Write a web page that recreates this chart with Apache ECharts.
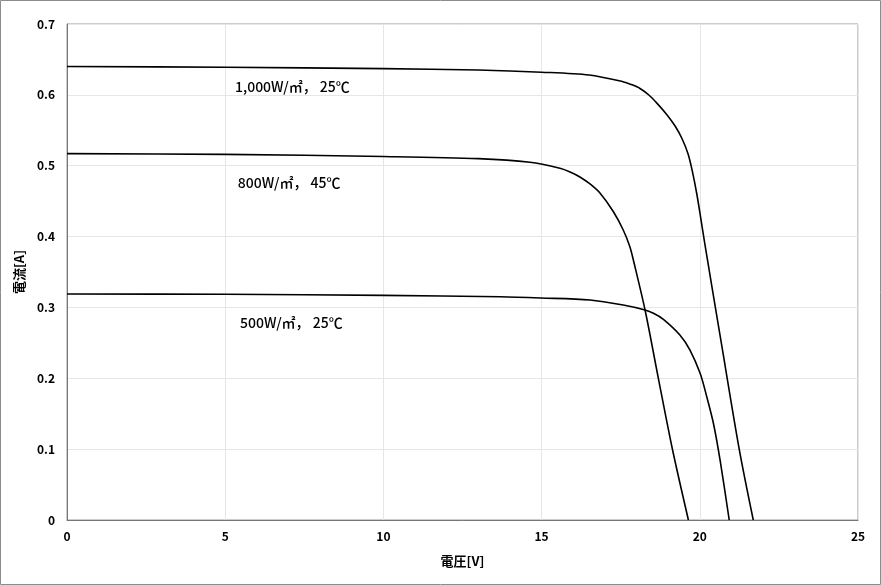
<!DOCTYPE html>
<html><head><meta charset="utf-8">
<script src="https://cdn.jsdelivr.net/npm/echarts@6/dist/echarts.min.js"></script>
<style>html,body{margin:0;padding:0;background:#fff}#c{width:881px;height:585px}</style>
</head><body><div id="c"></div>
<script>
// Data (voltage V, current A)
const curve1000 = [[0,0.640],[5,0.639],[10,0.637],[13,0.635],[15,0.632],[16.5,0.628],[17.57,0.6186],[17.86,0.6141],[18.11,0.609],[18.39,0.5998],[18.65,0.588],[18.96,0.572],[19.22,0.556],[19.44,0.538],[19.63,0.5165],[19.77,0.491],[19.90,0.4615],[20.02,0.429],[20.15,0.392],[20.68,0.250],[21.25,0.099],[21.69,0]];
const curve800 = [[0,0.517],[5,0.516],[10,0.513],[13,0.510],[14.63,0.5048],[15.58,0.4963],[15.90,0.4911],[16.21,0.4841],[16.53,0.4742],[16.85,0.4611],[17.27,0.4351],[17.58,0.4093],[17.79,0.3857],[17.90,0.3669],[18.27,0.2964],[18.69,0.200],[19.14,0.0988],[19.64,0]];
const curve500 = [[0,0.319],[5,0.3185],[10,0.317],[13.7,0.315],[14.98,0.3133],[16.53,0.3105],[17.58,0.3034],[18.27,0.2964],[18.55,0.2914],[18.85,0.2832],[19.37,0.2611],[19.69,0.2399],[20.01,0.207],[20.22,0.174],[20.43,0.1365],[20.64,0.0847],[20.93,0]];
const labelTexts = ['1,000W/㎡， 25℃','800W/㎡， 45℃','500W/㎡， 25℃'];
const labelCoords = [[5.31,0.611],[5.40,0.476],[5.47,0.278]];
const xTicks = {min:0,max:25,interval:5};
const yTicks = {min:0,max:0.7,interval:0.1};
const xName = '電圧[V]';
const yName = '電流[A]';

const FONT = '"Noto Sans CJK JP","Noto Sans",sans-serif';
const curves = [curve1000, curve800, curve500];
const chart = echarts.init(document.getElementById('c'), null, {renderer:'canvas'});
chart.setOption({
  animation:false,
  backgroundColor:'#fff',
  grid:{left:67,right:23,top:24,bottom:65,show:true,borderColor:'#9a9a9a',borderWidth:1},
  graphic:[{type:'rect',shape:{x:0.5,y:0.5,width:880,height:584},style:{fill:'none',stroke:'#8c8c8c',lineWidth:1},silent:true}],
  xAxis:{type:'value',min:xTicks.min,max:xTicks.max,interval:xTicks.interval,
    name:xName,nameLocation:'middle',nameGap:35,
    nameTextStyle:{fontFamily:FONT,fontSize:13,fontWeight:'bold',color:'#000'},
    axisLine:{lineStyle:{color:'#777',width:1}},axisTick:{show:false},
    axisLabel:{fontFamily:FONT,fontSize:12,fontWeight:'bold',color:'#000',margin:10},
    splitLine:{lineStyle:{color:'#e6e6e6'}}},
  yAxis:{type:'value',min:yTicks.min,max:yTicks.max,interval:yTicks.interval,
    name:yName,nameLocation:'middle',nameGap:30,
    nameTextStyle:{fontFamily:FONT,fontSize:13,fontWeight:'bold',color:'#000'},
    axisLine:{show:true,lineStyle:{color:'#777',width:1}},axisTick:{show:false},
    axisLabel:{fontFamily:FONT,fontSize:12,fontWeight:'bold',color:'#000',margin:12},
    splitLine:{lineStyle:{color:'#e6e6e6'}}},
  series:curves.map((d,i)=>({
    type:'line',data:d,showSymbol:false,smooth:0.3,
    lineStyle:{color:'#000',width:1.6},
    markPoint:{symbol:'circle',symbolSize:0,silent:true,
      data:[{coord:labelCoords[i],label:{show:true,formatter:labelTexts[i],position:'right',distance:0,
        fontFamily:FONT,fontSize:14,fontWeight:500,color:'#000'}}]}
  }))
});
</script></body></html>
